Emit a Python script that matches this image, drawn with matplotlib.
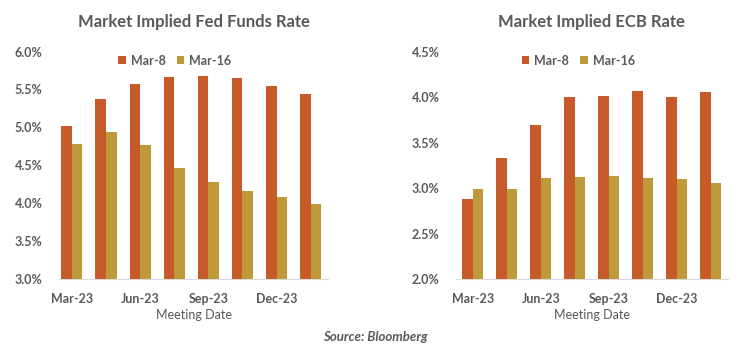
import numpy as np
import matplotlib.pyplot as plt

plt.rcParams['font.family'] = ['Lato', 'DejaVu Sans']

meetings = ['Mar-23', 'May-23', 'Jun-23', 'Jul-23', 'Sep-23', 'Nov-23', 'Dec-23', 'Jan-24']
series = ['Mar-8', 'Mar-16']

fed_mar8 = [5.02, 5.37, 5.57, 5.66, 5.68, 5.65, 5.55, 5.44]
fed_mar16 = [4.78, 4.94, 4.77, 4.46, 4.28, 4.16, 4.08, 3.99]

ecb_mar8 = [2.88, 3.33, 3.69, 4.00, 4.01, 4.07, 4.00, 4.06]
ecb_mar16 = [2.99, 2.99, 3.11, 3.12, 3.13, 3.11, 3.10, 3.06]

c_mar8 = '#C65A28'
c_mar16 = '#BE9A3A'
grey = '#595959'

fig = plt.figure(figsize=(7.5, 3.53), dpi=100)
ax1 = fig.add_axes([0.079, 0.209, 0.358, 0.645])
ax2 = fig.add_axes([0.608, 0.209, 0.362, 0.645])


def panel(ax, a, b, title, ylim, xlim, leg_x):
    x = np.arange(len(meetings))
    w = 0.31
    ax.bar(x - w / 2, a, w, color=c_mar8, label=series[0])
    ax.bar(x + w / 2, b, w, color=c_mar16, label=series[1])
    ax.set_ylim(*ylim)
    ax.set_xlim(*xlim)
    ticks = np.arange(ylim[0], ylim[1] + 0.001, 0.5)
    ax.set_yticks(ticks)
    ax.set_yticklabels([f'{t:.1f}%' for t in ticks], fontsize=9, fontweight='bold', color=grey)
    ax.set_xticks(x[::2])
    ax.set_xticklabels(meetings[::2], fontsize=9, fontweight='bold', color=grey)
    ax.tick_params(length=0, pad=10)
    ax.tick_params(axis='y', pad=12)
    for s in ['top', 'right', 'left']:
        ax.spines[s].set_visible(False)
    ax.spines['bottom'].set_color('#D9D9D9')
    ax.set_xlabel('Meeting Date', fontsize=9, color=grey, labelpad=3)
    ax.set_title(title, fontsize=12, fontweight='bold', color=grey, pad=18)
    ax.legend(loc='upper center', bbox_to_anchor=(leg_x, 1.035), ncol=2, frameon=False,
              handlelength=0.6, handleheight=0.6, handletextpad=0.4, columnspacing=0.9,
              prop={'size': 9, 'weight': 'bold'}, labelcolor=grey)


panel(ax1, fed_mar8, fed_mar16, 'Market Implied Fed Funds Rate', (3.0, 6.0), (-0.37, 7.5), 0.43)
panel(ax2, ecb_mar8, ecb_mar16, 'Market Implied ECB Rate', (2.0, 4.5), (-0.5, 7.5), 0.45)

fig.text(0.5, 0.045, 'Source: Bloomberg', ha='center', va='center', fontsize=9.5,
         fontweight='bold', style='italic', color=grey)

fig.savefig('out.png', dpi=100)
